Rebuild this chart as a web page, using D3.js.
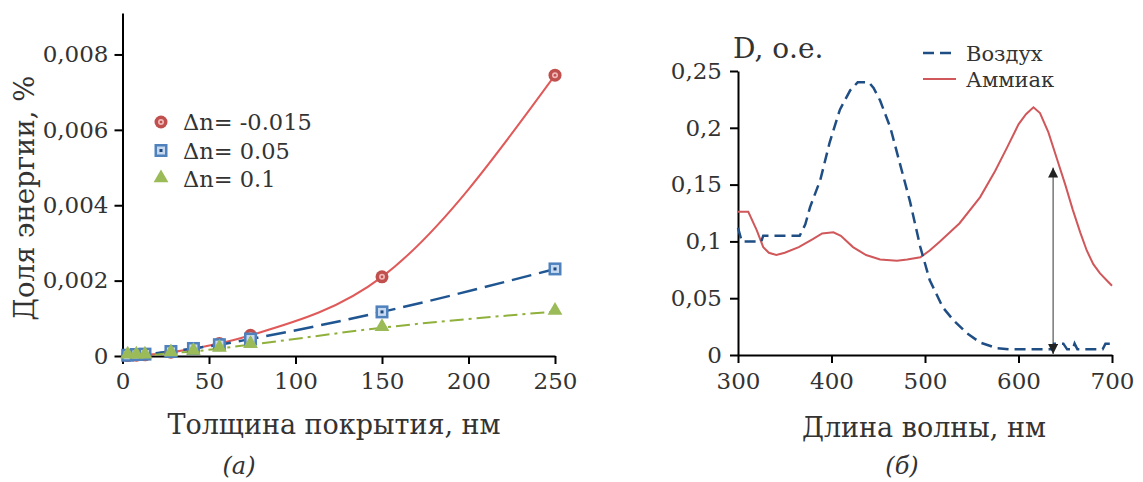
<!DOCTYPE html>
<html>
<head>
<meta charset="utf-8">
<script src="https://d3js.org/d3.v7.min.js"></script>
<style>
  body { margin: 0; background: #fff; }
  text { font-family: "DejaVu Serif", "Liberation Serif", serif; fill: #333; }
</style>
</head>
<body>
<div id="chart"></div>
<script>
// (a) energy share vs coating thickness
var thickness = [3, 8, 13, 28, 41, 56, 74, 150, 250];
var shareN015 = [0.00001, 0.00002, 0.00003, 0.0001, 0.0002, 0.00033, 0.00055, 0.0021, 0.00745];
var shareN05 = [0.00002, 0.00004, 0.00005, 0.00012, 0.0002, 0.0003, 0.00045, 0.00117, 0.00231];
var shareN1 = [0.00002, 0.00002, 0.00002, 0.00008, 0.00012, 0.0002, 0.0003, 0.00075, 0.00118];
var leftYTicks = [0, 0.002, 0.004, 0.006, 0.008];
var leftXTicks = [0, 50, 100, 150, 200, 250];
var leftLegend = ["Δn= -0.015", "Δn= 0.05", "Δn= 0.1"];

// (б) optical density spectra
var airWl = [300, 304, 325, 327, 366, 372, 377, 388, 398, 409, 420, 428, 440, 445, 452, 463, 473, 484, 495, 505, 519, 530, 545, 559, 577, 590, 635, 638, 648, 652, 658, 660, 663, 690, 693, 700];
var airD = [0.112, 0.1, 0.1, 0.105, 0.105, 0.115, 0.13, 0.154, 0.187, 0.216, 0.233, 0.24, 0.24, 0.235, 0.224, 0.2, 0.169, 0.135, 0.095, 0.066, 0.042, 0.031, 0.019, 0.011, 0.006, 0.005, 0.005, 0.01, 0.01, 0.005, 0.005, 0.01, 0.005, 0.005, 0.01, 0.01];
var nh3Wl = [300, 311, 320, 327, 333, 341, 350, 365, 380, 390, 402, 410, 423, 437, 452, 470, 481, 495, 505, 516, 537, 559, 575, 588, 600, 608, 616, 623, 632, 641, 650, 658, 666, 673, 680, 687, 694, 700];
var nh3D = [0.126, 0.126, 0.11, 0.095, 0.09, 0.088, 0.09, 0.095, 0.102, 0.107, 0.108, 0.105, 0.095, 0.088, 0.084, 0.083, 0.084, 0.086, 0.092, 0.1, 0.116, 0.139, 0.162, 0.183, 0.203, 0.212, 0.218, 0.213, 0.196, 0.173, 0.15, 0.128, 0.108, 0.092, 0.08, 0.072, 0.066, 0.061];
var rightYTicks = [0, 0.05, 0.1, 0.15, 0.2, 0.25];
var rightXTicks = [300, 400, 500, 600, 700];
var rightLegend = ["Воздух", "Аммиак"];
var arrowWl = 637, arrowTop = 0.165, arrowBottom = 0;

var svg = d3.select('#chart').append('svg')
  .attr('width', 1143)
  .attr('height', 482);

function comma(d) {
  return d === 0 ? "0" : d3.format(".3~f")(d).replace(".", ",");
}

function styleAxis(g) {
  g.select('.domain').attr('stroke', '#000').attr('stroke-width', 2);
  g.selectAll('.tick line').attr('stroke', '#000').attr('stroke-width', 2);
  g.selectAll('.tick text').style('font-size', '23px').attr('fill', '#333');
}

// ---------- chart (a) ----------
var xL = d3.scaleLinear().domain([0, 250]).range([122.5, 555]);
var yL = d3.scaleLinear().domain([0, 0.0091]).range([356, 13]);

var gL = svg.append('g');

gL.append('g')
  .attr('transform', 'translate(0,356)')
  .call(d3.axisBottom(xL).tickValues(leftXTicks).tickSizeInner(8).tickSizeOuter(0).tickPadding(9))
  .call(styleAxis);

gL.append('g')
  .attr('transform', 'translate(122.5,0)')
  .call(d3.axisLeft(yL).tickValues(leftYTicks).tickFormat(comma).tickSizeInner(8).tickSizeOuter(0).tickPadding(6))
  .call(styleAxis);

var seriesL = [
  { y: shareN015, color: '#e05a5a', dash: null, width: 2 },
  { y: shareN05, color: '#1f5591', dash: '20,8', width: 2.5 },
  { y: shareN1, color: '#8fb03a', dash: '14,5,3,5', width: 2 }
];

var lineL = d3.line().curve(d3.curveMonotoneX);

seriesL.forEach(function(s) {
  gL.append('path')
    .attr('d', lineL(thickness.map((t, i) => [xL(t), yL(s.y[i])])))
    .attr('fill', 'none')
    .attr('stroke', s.color)
    .attr('stroke-width', s.width)
    .attr('stroke-dasharray', s.dash);
});

function circleMark(g, x, y) {
  g.append('circle').attr('cx', x).attr('cy', y).attr('r', 6.5).attr('fill', '#c0504d');
  g.append('circle').attr('cx', x).attr('cy', y).attr('r', 3).attr('fill', '#f0b8b8');
  g.append('circle').attr('cx', x).attr('cy', y).attr('r', 1.3).attr('fill', '#c0504d');
}
function squareMark(g, x, y) {
  g.append('rect').attr('x', x - 6.5).attr('y', y - 6.5).attr('width', 13).attr('height', 13).attr('fill', '#4f81bd');
  g.append('rect').attr('x', x - 4).attr('y', y - 4).attr('width', 8).attr('height', 8).attr('fill', '#c6d9f1');
  g.append('rect').attr('x', x - 1.5).attr('y', y - 1.5).attr('width', 3).attr('height', 3).attr('fill', '#1f497d');
}
function triMark(g, x, y) {
  g.append('path')
    .attr('d', d3.symbol().type(d3.symbolTriangle).size(95)())
    .attr('transform', 'translate(' + x + ',' + (y - 1) + ')')
    .attr('fill', '#9bbb59');
}

var marks = [circleMark, squareMark, triMark];
seriesL.forEach(function(s, k) {
  thickness.forEach(function(t, i) {
    marks[k](gL, xL(t), yL(s.y[i]));
  });
});

// legend (a)
leftLegend.forEach(function(l, i) {
  var ly = 122 + i * 28.5;
  marks[i](gL, 161, ly);
  gL.append('text')
    .attr('x', 183)
    .attr('y', ly + 8)
    .style('font-size', '22.5px')
    .attr('fill', '#222')
    .text(l);
});

// titles (a)
gL.append('text')
  .attr('x', 334)
  .attr('y', 434)
  .attr('text-anchor', 'middle')
  .style('font-size', '27px')
  .attr('fill', '#444')
  .text('Толщина покрытия, нм');

gL.append('text')
  .attr('transform', 'translate(34,198) rotate(-90)')
  .attr('text-anchor', 'middle')
  .style('font-size', '27.5px')
  .attr('fill', '#444')
  .text('Доля энергии, %');

gL.append('text')
  .attr('x', 239)
  .attr('y', 474)
  .attr('text-anchor', 'middle')
  .style('font-size', '24px')
  .style('font-style', 'italic')
  .attr('fill', '#111')
  .text('(a)');

// ---------- chart (б) ----------
var xR = d3.scaleLinear().domain([300, 700]).range([738, 1112]);
var yR = d3.scaleLinear().domain([0, 0.25]).range([355, 71]);

var gR = svg.append('g');

gR.append('g')
  .attr('transform', 'translate(0,355)')
  .call(d3.axisBottom(xR).tickValues(rightXTicks).tickSizeInner(8).tickSizeOuter(0).tickPadding(10))
  .call(styleAxis);

gR.append('g')
  .attr('transform', 'translate(738,0)')
  .call(d3.axisLeft(yR).tickValues(rightYTicks).tickFormat(d => d === 0 ? "0" : d3.format(".2~f")(d).replace(".", ",")).tickSizeInner(8).tickSizeOuter(0).tickPadding(8))
  .call(styleAxis);

var lineR = d3.line();

gR.append('path')
  .attr('d', lineR(nh3Wl.map((w, i) => [xR(w), yR(nh3D[i])])))
  .attr('fill', 'none')
  .attr('stroke', '#d0575a')
  .attr('stroke-width', 2);

gR.append('path')
  .attr('d', lineR(airWl.map((w, i) => [xR(w), yR(airD[i])])))
  .attr('fill', 'none')
  .attr('stroke', '#1f4e85')
  .attr('stroke-width', 2.5)
  .attr('stroke-dasharray', '11,6');

// double arrow
svg.append('defs').append('marker')
  .attr('id', 'ah')
  .attr('viewBox', '0 0 10 10')
  .attr('refX', 10).attr('refY', 5)
  .attr('markerWidth', 10).attr('markerHeight', 10)
  .attr('markerUnits', 'userSpaceOnUse')
  .attr('orient', 'auto-start-reverse')
  .append('path')
  .attr('d', 'M0,0 L10,5 L0,10 Z')
  .attr('fill', '#222');

gR.append('line')
  .attr('x1', xR(arrowWl)).attr('x2', xR(arrowWl))
  .attr('y1', yR(arrowTop)).attr('y2', yR(arrowBottom) - 1)
  .attr('stroke', '#333')
  .attr('stroke-width', 1)
  .attr('marker-start', 'url(#ah)')
  .attr('marker-end', 'url(#ah)');

// legend (б)
var legR = [
  { color: '#1f4e85', dash: '11,6', width: 2.5 },
  { color: '#d0575a', dash: null, width: 2 }
];
rightLegend.forEach(function(l, i) {
  var ly = 53 + i * 26;
  gR.append('line')
    .attr('x1', 923).attr('x2', 956)
    .attr('y1', ly).attr('y2', ly)
    .attr('stroke', legR[i].color)
    .attr('stroke-width', legR[i].width)
    .attr('stroke-dasharray', legR[i].dash);
  gR.append('text')
    .attr('x', 966)
    .attr('y', ly + 8)
    .style('font-size', '21px')
    .attr('fill', '#222')
    .text(l);
});

// titles (б)
gR.append('text')
  .attr('x', 733)
  .attr('y', 58)
  .style('font-size', '28px')
  .attr('fill', '#333')
  .text('D, о.е.');

gR.append('text')
  .attr('x', 924)
  .attr('y', 437)
  .attr('text-anchor', 'middle')
  .style('font-size', '27px')
  .attr('fill', '#444')
  .text('Длина волны, нм');

gR.append('text')
  .attr('x', 902)
  .attr('y', 474)
  .attr('text-anchor', 'middle')
  .style('font-size', '24px')
  .style('font-style', 'italic')
  .attr('fill', '#111')
  .text('(б)');
</script>
</body>
</html>
